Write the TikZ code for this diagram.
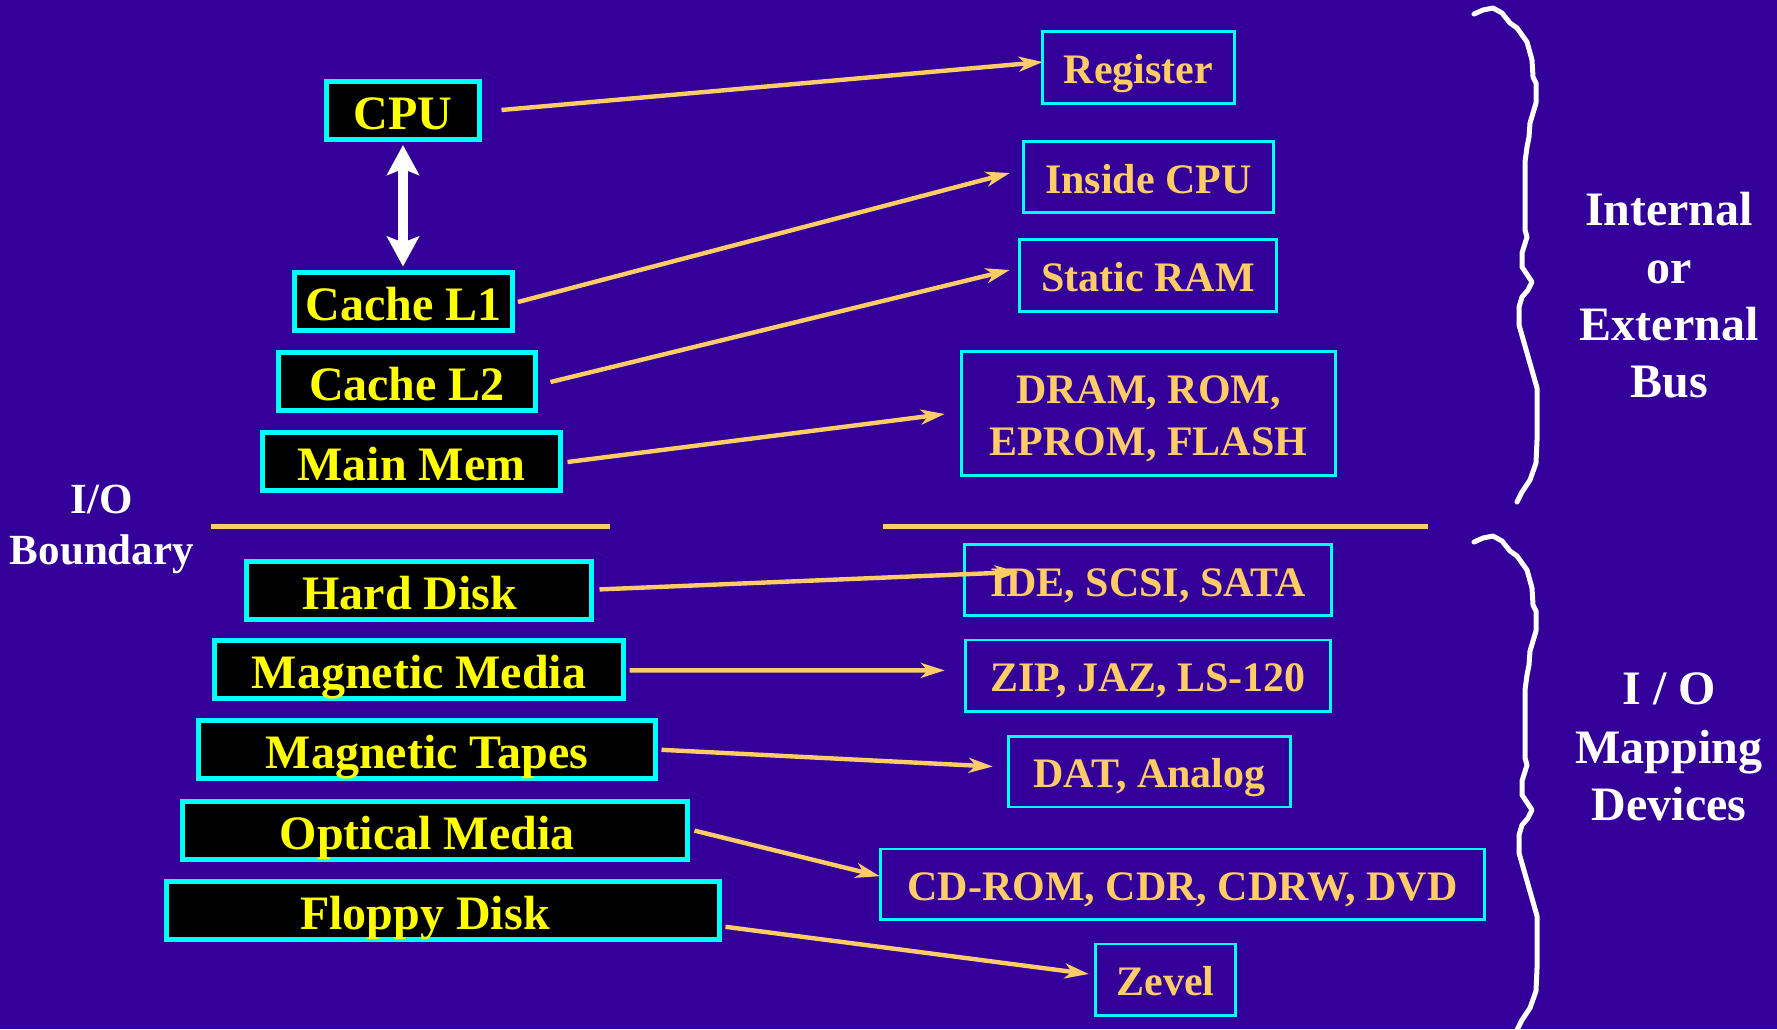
\documentclass[tikz,border=0pt]{standalone}
\usepackage{fontspec}
\setmainfont{Liberation Serif}
\usetikzlibrary{arrows.meta}
\definecolor{bg}{RGB}{51,0,153}
\definecolor{cyanb}{RGB}{0,255,255}
\definecolor{orng}{RGB}{255,204,102}
\definecolor{yel}{RGB}{255,255,0}
\begin{document}
\begin{tikzpicture}[x=0.5pt,y=-0.5pt,
 lbox/.style={draw=cyanb, line width=2.5pt, fill=black, text=yel, font=\fontsize{24}{28}\selectfont\bfseries, inner sep=0pt, minimum height=29pt, text height=20pt, text depth=1pt},
 rbox/.style={draw=cyanb, line width=1.3pt, text=orng, font=\fontsize{21}{26}\selectfont\bfseries, inner sep=0pt, minimum height=35.7pt, text height=17pt, text depth=1pt},
 rbox2/.style={draw=cyanb, line width=1.3pt, text=orng, font=\fontsize{21}{26}\selectfont\bfseries, inner sep=0pt, align=center},
 conn/.style={draw=orng, line width=2.2pt, -{Stealth[length=12pt,width=7.5pt,inset=3.5pt]}},
 dbl/.style={draw=white, line width=5pt, {Stealth[length=15pt,width=16pt,inset=3pt]}-{Stealth[length=15pt,width=16pt,inset=3pt]}},
 bound/.style={draw=orng, line width=2.5pt},
 brace/.style={draw=white, line width=2.5pt, line join=round, line cap=round},
 lbl/.style={text=white, font=\fontsize{24}{29}\selectfont\bfseries, anchor=base, inner sep=0pt},
 iolbl/.style={text=white, font=\fontsize{21.5}{26}\selectfont\bfseries, anchor=base, inner sep=0pt}]
\useasboundingbox (0,0) rectangle (1777,1029);
\clip (0,0) rectangle (1777,1029);
\fill[bg] (0,0) rectangle (1777,1029);

% left boxes
\node[lbox, minimum width=76.5pt] (cpu) at (403,110) {CPU};
\node[lbox, minimum width=109pt] (l1) at (403.5,301.5) {Cache L1};
\node[lbox, minimum width=128.5pt] (l2) at (407,381.5) {Cache L2};
\node[lbox, minimum width=149pt] (mm) at (411.5,461.5) {Main Mem};
\node[lbox, minimum width=172.5pt] (hd) at (419,590) {Hard Disk\hspace*{9pt}};
\node[lbox, minimum width=204.5pt] (mmed) at (419,669.7) {Magnetic Media};
\node[lbox, minimum width=228.5pt] (mt) at (427,749.8) {Magnetic Tapes};
\node[lbox, minimum width=252.5pt] (om) at (435,830) {Optical Media\hspace*{8pt}};
\node[lbox, minimum width=276.5pt] (fd) at (443,910) {Floppy Disk\hspace*{18pt}};

% right boxes
\node[rbox, minimum width=96.2pt, minimum height=36.2pt] (reg) at (1138.5,67.5) {Register};
\node[rbox, minimum width=125.2pt] (ins) at (1148.5,177) {Inside CPU};
\node[rbox, minimum width=128.7pt, minimum height=36.2pt] (sram) at (1148,275.5) {Static RAM};
\node[rbox2, minimum width=187.2pt, minimum height=62.2pt] (dram) at (1148.5,413.5) {\rule{0pt}{19.5pt}DRAM, ROM,\\EPROM, FLASH};
\node[rbox, minimum width=183.7pt] (ide) at (1148,580) {IDE, SCSI, SATA};
\node[rbox, minimum width=182.7pt] (zip) at (1148,675.8) {ZIP, JAZ, LS-120};
\node[rbox, minimum width=141.2pt, minimum height=35.2pt] (dat) at (1149.5,771.6) {DAT, Analog};
\node[rbox, minimum width=302.2pt, minimum height=35.2pt] (cd) at (1182.5,884) {CD-ROM, CDR, CDRW, DVD};
\node[rbox, minimum width=70.2pt] (zev) at (1165.5,979.8) {Zevel};

% double arrow
\draw[dbl] ([yshift=-1.75pt]cpu.south) -- ([yshift=1.75pt]cpu.south |- l1.north);

% connectors
\draw[conn] ([shift={(19.5,0)}]cpu.east) -- ([shift={(1.75,-5.5)}]reg.west);
\draw[conn] ([shift={(3,0.5)}]l1.east) -- ([shift={(-12.25,-4)}]ins.west);
\draw[conn] ([shift={(12.5,0.5)}]l2.east) -- ([shift={(-8.25,-5.5)}]sram.west);
\draw[conn] ([shift={(4.5,0.5)}]mm.east) -- ([shift={(-15.25,0.5)}]dram.west);
\draw[conn] ([shift={(5.5,-0.6)}]hd.east) -- ([shift={(55.75,-8)}]ide.west);
\draw[conn] ([shift={(3.5,0.7)}]mmed.east) -- ([shift={(-19.25,-5.4)}]zip.west);
\draw[conn] ([shift={(3.5,0)}]mt.east) -- ([shift={(-14.25,-5.1)}]dat.west);
\draw[conn] ([shift={(4.5,0.6)}]om.east) -- ([shift={(0.75,-7.8)}]cd.west);
\draw[conn] ([shift={(3.5,16.8)}]fd.east) -- ([shift={(-5.25,-5.8)}]zev.west);

% I/O boundary lines
\coordinate (b1) at (211,526);
\coordinate (b2) at (610,526);
\coordinate (b3) at (883,526);
\coordinate (b4) at (1428,526);
\draw[bound] (b1) -- (b2);
\draw[bound] (b3) -- (b4);

% labels
\node[iolbl] (io1) at (102,513) {I/O};
\node[iolbl] (io2) at (102,564) {Boundary};
\node[lbl] (t1) at (1669,225) {Internal};
\node[lbl] (t2) at (1669,283) {or};
\node[lbl] (t3) at (1669,340) {External};
\node[lbl] (t4) at (1669,397) {Bus};
\node[lbl] (t5) at (1669,704) {I / O};
\node[lbl] (t6) at (1669,763) {Mapping};
\node[lbl] (t7) at (1669,820.5) {Devices};

% braces
\foreach \dy in {0,528}{
\draw[brace, shift={(0,\dy)}] (1474,14) -- (1483,10) -- (1493,8) -- (1502,13) -- (1510,23) -- (1517,28) -- (1527,42) -- (1532,60) -- (1533,77) -- (1536,83) -- (1536,103) -- (1530,123) -- (1529,137) -- (1527,147) -- (1525,162) -- (1525,230) -- (1527,237) -- (1522,253) -- (1522,267) -- (1532,282) -- (1528,290) -- (1522,297) -- (1519,307) -- (1519,325) -- (1537,388) -- (1537,440) -- (1536,463) -- (1530,480) -- (1522,492) -- (1517,502);
}
\end{tikzpicture}
\end{document}
